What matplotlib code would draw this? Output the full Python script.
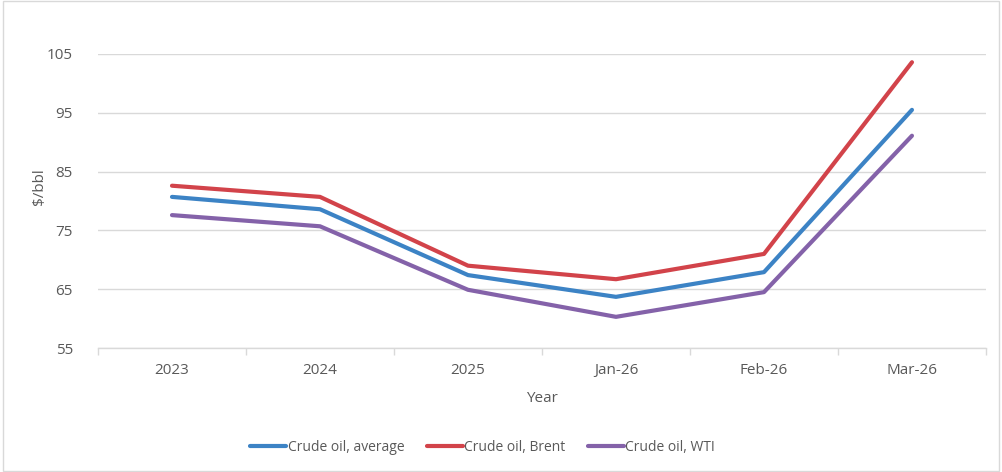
import numpy as np
import matplotlib.pyplot as plt
from matplotlib.patches import Rectangle

# Crude oil prices, $/bbl
periods = ["2023", "2024", "2025", "Jan-26", "Feb-26", "Mar-26"]
crude_average = [80.7, 78.6, 67.4, 63.7, 67.9, 95.5]
crude_brent = [82.6, 80.7, 69.0, 66.7, 71.0, 103.6]
crude_wti = [77.6, 75.7, 64.9, 60.3, 64.5, 91.1]

series = [
    ("Crude oil, average", crude_average, "#3C83C5"),
    ("Crude oil, Brent", crude_brent, "#D2434A"),
    ("Crude oil, WTI", crude_wti, "#8462A9"),
]

plt.rcParams['font.family'] = ['Open Sans', 'DejaVu Sans']
text_col = "#595959"

fig = plt.figure(figsize=(10.02, 4.72), dpi=100)
ax = fig.add_axes([0.0978, 0.2627, 0.8862, 0.6229])

x = np.arange(len(periods))
for label, vals, col in series:
    ax.plot(x, vals, color=col, lw=3.0, label=label, solid_capstyle='round',
            solid_joinstyle='round')

ax.set_xlim(-0.5, len(periods) - 0.5)
ax.set_ylim(55, 105)
ax.set_yticks(np.arange(55, 106, 10))
ax.set_xticks(x)
ax.set_xticklabels(periods)
ax.set_xticks(np.arange(-0.5, len(periods), 1), minor=True)

ax.grid(axis='y', color='#D9D9D9', lw=1.0)
ax.set_axisbelow(True)
for s in ['top', 'right', 'left']:
    ax.spines[s].set_visible(False)
ax.spines['bottom'].set_color('#D9D9D9')
ax.spines['bottom'].set_linewidth(1.0)

ax.tick_params(axis='y', length=0, pad=18, labelsize=11, labelcolor=text_col)
ax.tick_params(axis='x', which='major', length=0, pad=11, labelsize=11,
               labelcolor=text_col)
ax.tick_params(axis='x', which='minor', length=5, width=1.0, color='#D9D9D9')

ax.set_ylabel("$/bbl", fontsize=11, color=text_col)
ax.yaxis.set_label_coords(-0.057, 0.55)
ax.set_xlabel("Year", fontsize=11, color=text_col, labelpad=9)

ax.legend(loc='upper center', bbox_to_anchor=(0.433, -0.27), ncol=3,
          frameon=False, fontsize=10, handlelength=2.6, handletextpad=0.1,
          columnspacing=1.6, labelcolor=text_col)

fig.patches.append(Rectangle((0.003, 0.003), 0.994, 0.994, transform=fig.transFigure,
                             fill=False, edgecolor='#D9D9D9', lw=1.0))

fig.savefig("out.png", dpi=100)
